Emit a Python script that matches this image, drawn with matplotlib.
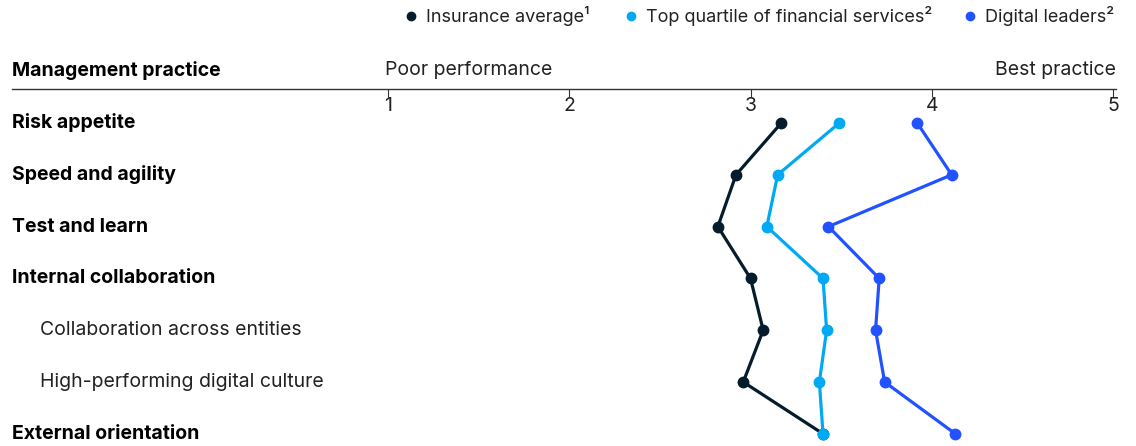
import matplotlib
matplotlib.use("Agg")
import matplotlib.pyplot as plt
from matplotlib.lines import Line2D

plt.rcParams['font.family'] = ['Inter', 'DejaVu Sans']

categories = ["Risk appetite", "Speed and agility", "Test and learn", "Internal collaboration",
              "Collaboration across entities", "High-performing digital culture", "External orientation"]
is_sub = [False, False, False, False, True, True, False]

insurance_avg = [3.17, 2.92, 2.82, 3.00, 3.07, 2.96, 3.40]
top_quartile = [3.49, 3.15, 3.09, 3.40, 3.42, 3.38, 3.40]
digital_leaders = [3.92, 4.11, 3.43, 3.71, 3.69, 3.74, 4.13]

series_names = ["Insurance average¹", "Top quartile of financial services²", "Digital leaders²"]
series_colors = ["#051c2c", "#00a9f4", "#2251ff"]
tick_values = [1, 2, 3, 4, 5]

W, H = 1136, 446
fig = plt.figure(figsize=(W / 100, H / 100), dpi=100)

FS = 14
line_y = 89
row0 = 123
row_step = 51.8
left_px, right_px = 388, 1113
ax = fig.add_axes([left_px / W, 0, (right_px - left_px) / W, (H - line_y) / H])
ax.set_xlim(1, 5)
top = -(row0 - line_y) / row_step
bottom = (H - row0) / row_step
ax.set_ylim(bottom, top)
for s in ax.spines.values():
    s.set_visible(False)
ax.patch.set_alpha(0)
ax.set_yticks([])
ax.xaxis.set_ticks_position('top')
ax.xaxis.set_label_position('top')
ax.set_xticks(tick_values)
ax.set_xticklabels([str(v) for v in tick_values])
ax.tick_params(axis='x', direction='in', length=6, width=0.8, color='#333333',
               labelsize=FS, labelcolor='#222222', pad=-19)

ys = list(range(len(categories)))
for vals, col in zip([insurance_avg, top_quartile, digital_leaders], series_colors):
    ax.plot(vals, ys, color=col, lw=2.3, marker='o', ms=7.5, clip_on=False, zorder=3)

# axis line
fig.add_artist(Line2D([12 / W, 1116 / W], [1 - line_y / H, 1 - line_y / H],
                      color='#333333', lw=1.0, transform=fig.transFigure))

# header texts
hy = 1 - 70 / H
fig.text(12 / W, hy, "Management practice", fontsize=FS, fontweight='bold', va='center', ha='left', color='#000000')
fig.text(385 / W, hy, "Poor performance", fontsize=FS, va='center', ha='left', color='#222222')
fig.text(1116 / W, hy, "Best practice", fontsize=FS, va='center', ha='right', color='#222222')

# row labels
for i, (cat, sub) in enumerate(zip(categories, is_sub)):
    y = 1 - (row0 + i * row_step) / H
    if sub:
        fig.text(40 / W, y, cat, fontsize=FS, va='center', ha='left', color='#222222')
    else:
        fig.text(12 / W, y, cat, fontsize=FS, fontweight='bold', va='center', ha='left', color='#000000')

# legend
leg_y = 1 - 16 / H
leg_marker_x = [411, 631, 970]
for name, col, mx in zip(series_names, series_colors, leg_marker_x):
    fig.add_artist(Line2D([mx / W], [leg_y], marker='o', ms=6, color=col, lw=0,
                          transform=fig.transFigure))
    fig.text((mx + 15) / W, leg_y, name, fontsize=13, va='center', ha='left', color='#222222')

fig.savefig("out.png", dpi=100)
